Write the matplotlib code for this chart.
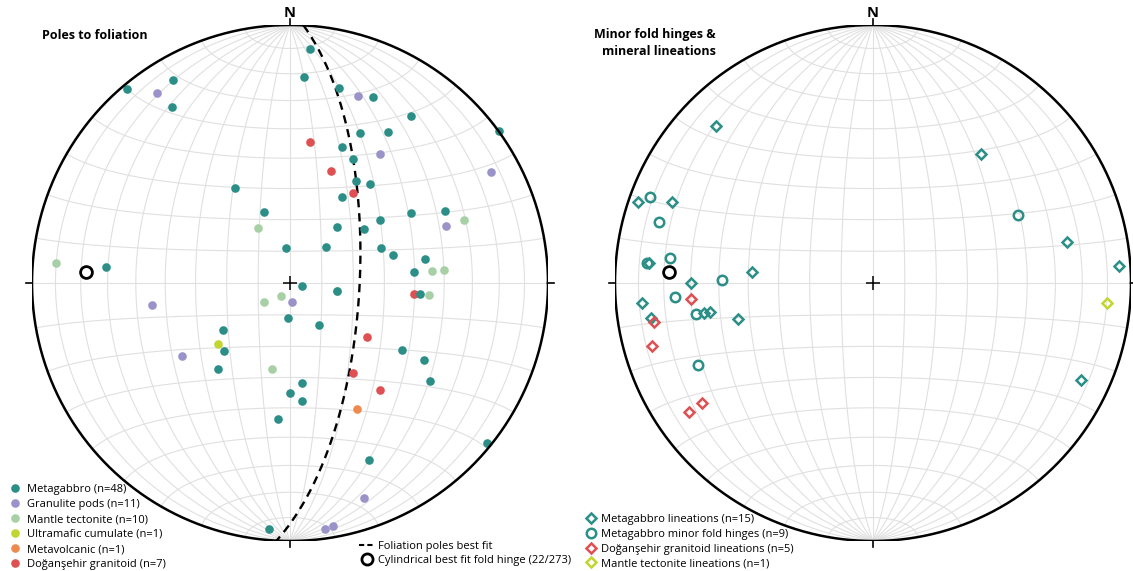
import numpy as np
import matplotlib
matplotlib.use("Agg")
import matplotlib.pyplot as plt
from matplotlib.lines import Line2D

plt.rcParams['font.family'] = ['Open Sans', 'DejaVu Sans']

# ---- data: poles to foliation (trend / plunge, degrees) ----
mg_trend = [320, 330, 326, 330, 340, 354, 275, 5, 4, 14, 24, 36, 54, 25, 33, 21, 27,
            33, 39, 31, 60, 65, 55, 40, 54, 45, 69, 75, 80, 85, 102, 184, 235, 224,
            220, 180, 185, 185, 100, 95, 145, 121, 120, 173, 125, 174, 129, 156]
mg_plunge = [2, 10, 19, 55, 66, 79, 29, 10, 21, 23, 22, 21, 0, 36, 31, 43, 45,
             51, 49, 58, 45, 34, 55, 67, 61, 74, 59, 56, 46, 50, 86, 79, 64, 60,
             54, 55, 46, 5, 75, 48, 74, 48, 40, 58, 34, 52, 2, 26]
gp_trend = [325, 20, 35, 61, 70, 175, 261, 236, 161, 170, 172]
gp_plunge = [11, 24, 39, 12, 36, 84, 45, 48, 13, 5, 4]
mt_trend = [330, 275, 70, 85, 85, 234, 214, 192, 95, 100]
mt_plunge = [70, 10, 29, 44, 40, 80, 85, 62, 45, 75]
uc_trend = [230]
uc_plunge = [60]
mv_trend = [152]
mv_plunge = [44]
dg_trend = [8, 20, 35, 95, 125, 145, 140]
dg_plunge = [44, 52, 55, 50, 60, 55, 45]

# ---- data: lineations and minor fold hinges ----
mgl_trend = [315, 289, 292, 275, 270, 275, 40, 78, 86, 265, 261, 260, 260, 255, 115]
mgl_plunge = [15, 4, 17, 14, 30, 51, 35, 24, 5, 11, 14, 34, 36, 45, 12]
mgh_trend = [291, 286, 275, 277, 271, 65, 266, 260, 245]
mgh_plunge = [8, 15, 13, 22, 41, 38, 24, 31, 26]
dgl_trend = [265, 260, 254, 235, 235]
dgl_plunge = [30, 15, 12, 20, 14]
mtl_trend = [95]
mtl_plunge = [10]

# cylindrical best fit fold hinge (plunge/trend 22/273)
hinge_trend = 273
hinge_plunge = 22

c_teal = '#2b8f87'
c_purple = '#9a93c9'
c_mantle = '#a8d0a6'
c_ultra = '#c2d531'
c_volc = '#ee8a50'
c_red = '#de5052'
c_grid = '#e0e0e0'


def vec_project(e, n, d):
    # equal-area (Schmidt) lower hemisphere
    s = np.sqrt(1.0 + d)
    return e / s, n / s


def project(trend, plunge):
    t = np.radians(np.asarray(trend, float))
    p = np.radians(np.asarray(plunge, float))
    e = np.cos(p) * np.sin(t)
    n = np.cos(p) * np.cos(t)
    d = np.sin(p)
    return vec_project(e, n, d)


def great_circle(strike, dip):
    phi = np.radians(np.linspace(0, 180, 181))
    s = np.radians(strike)
    dp = np.radians(dip)
    sv = np.array([np.sin(s), np.cos(s), 0.0])
    dv = np.array([np.cos(dp) * np.sin(s + np.pi / 2), np.cos(dp) * np.cos(s + np.pi / 2), np.sin(dp)])
    v = np.outer(np.cos(phi), sv) + np.outer(np.sin(phi), dv)
    return vec_project(v[:, 0], v[:, 1], v[:, 2])


def small_circle_ns(alpha, sign):
    th = np.radians(np.linspace(0, 180, 181))
    a = np.radians(alpha)
    e = np.sin(a) * np.cos(th)
    n = sign * np.cos(a) * np.ones_like(th)
    d = np.sin(a) * np.sin(th)
    return vec_project(e, n, d)


def draw_net(ax):
    for dip in range(10, 90, 10):
        for strike in (0, 180):
            x, y = great_circle(strike, dip)
            ax.plot(x, y, color=c_grid, lw=0.8, zorder=1)
    ax.plot([0, 0], [-1, 1], color=c_grid, lw=0.8, zorder=1)
    ax.plot([-1, 1], [0, 0], color=c_grid, lw=0.8, zorder=1)
    for a in range(10, 90, 10):
        for sign in (1, -1):
            x, y = small_circle_ns(a, sign)
            ax.plot(x, y, color=c_grid, lw=0.8, zorder=1)
    th = np.linspace(0, 2 * np.pi, 400)
    ax.plot(np.cos(th), np.sin(th), color='black', lw=1.8, zorder=5)
    k = 0.025
    ax.plot([0, 0], [1, 1 + k], color='black', lw=1.2, clip_on=False)
    ax.plot([0, 0], [-1, -1 - k], color='black', lw=1.2, clip_on=False)
    ax.plot([1, 1 + k], [0, 0], color='black', lw=1.2, clip_on=False)
    ax.plot([-1, -1 - k], [0, 0], color='black', lw=1.2, clip_on=False)
    ax.plot([0], [0], marker='+', color='black', ms=10, mew=1.1, zorder=6)
    ax.text(0, 1.03, 'N', ha='center', va='baseline', fontsize=10.5, fontweight='bold')
    ax.set_xlim(-1, 1)
    ax.set_ylim(-1, 1)
    ax.axis('off')


fig = plt.figure(figsize=(11.33, 5.71), dpi=100)
W, H, R = 1133, 571, 258
ax1 = fig.add_axes([(290 - R) / W, (H - 283 - R) / H, 2 * R / W, 2 * R / H])
ax2 = fig.add_axes([(873 - R) / W, (H - 283 - R) / H, 2 * R / W, 2 * R / H])
draw_net(ax1)
draw_net(ax2)

# ---- left: poles to foliation ----
dot = dict(ls='none', marker='o', ms=6.2, mec='none', zorder=4, clip_on=False)
groups = [
    (mt_trend, mt_plunge, c_mantle, 'Mantle tectonite (n=10)'),
    (gp_trend, gp_plunge, c_purple, 'Granulite pods (n=11)'),
    (dg_trend, dg_plunge, c_red, 'Doğanşehir granitoid (n=7)'),
    (mg_trend, mg_plunge, c_teal, 'Metagabbro (n=48)'),
    (uc_trend, uc_plunge, c_ultra, 'Ultramafic cumulate (n=1)'),
    (mv_trend, mv_plunge, c_volc, 'Metavolcanic (n=1)'),
]
handles = {}
for tr, pl, col, lab in groups:
    x, y = project(tr, pl)
    handles[lab], = ax1.plot(x, y, color=col, label=lab, **dot)

gx, gy = great_circle((hinge_trend + 90) % 360, 90 - hinge_plunge)
ax1.plot(gx, gy, color='black', lw=1.7, ls=(0, (3.5, 2.5)), zorder=3)
hx, hy = project(hinge_trend, hinge_plunge)
ax1.plot(hx, hy, ls='none', marker='o', ms=8.5, mfc='none', mec='black', mew=2.0, zorder=7)

ax1.text(-0.961, 0.96, 'Poles to foliation', fontsize=9, fontweight='bold', ha='left', va='center')

order = ['Metagabbro (n=48)', 'Granulite pods (n=11)', 'Mantle tectonite (n=10)',
         'Ultramafic cumulate (n=1)', 'Metavolcanic (n=1)', 'Doğanşehir granitoid (n=7)']
leg1 = fig.legend([handles[k] for k in order], order, loc='upper left',
                  bbox_to_anchor=(11.5 / W, 1 - 484 / H), frameon=False, fontsize=8,
                  handlelength=0.6, handletextpad=0.78, labelspacing=0.36, borderpad=0,
                  borderaxespad=0)

fit_handles = [Line2D([], [], color='black', lw=1.5, ls=(0, (2.5, 1.5))),
               Line2D([], [], ls='none', marker='o', ms=8, mfc='none', mec='black', mew=2.0)]
leg2 = fig.legend(fit_handles, ['Foliation poles best fit', 'Cylindrical best fit fold hinge (22/273)'],
                  loc='upper left', bbox_to_anchor=(359 / W, 1 - 541 / H), frameon=False,
                  fontsize=8, handlelength=1.4, handletextpad=0.35, labelspacing=0.29,
                  borderpad=0, borderaxespad=0)

# ---- right: minor fold hinges & mineral lineations ----
dia = dict(ls='none', marker='D', ms=5.0, mfc='none', mew=1.8, zorder=4, clip_on=False)
rgroups = [
    (mgl_trend, mgl_plunge, c_teal, 'D', 'Metagabbro lineations (n=15)'),
    (mgh_trend, mgh_plunge, c_teal, 'o', 'Metagabbro minor fold hinges (n=9)'),
    (dgl_trend, dgl_plunge, c_red, 'D', 'Doğanşehir granitoid lineations (n=5)'),
    (mtl_trend, mtl_plunge, c_ultra, 'D', 'Mantle tectonite lineations (n=1)'),
]
rh = []
for tr, pl, col, mk, lab in rgroups:
    x, y = project(tr, pl)
    st = dict(dia)
    st['marker'] = mk
    st['ms'] = 5.0 if mk == 'D' else 6.8
    h, = ax2.plot(x, y, mec=col, label=lab, **st)
    rh.append(h)
ax2.plot(hx, hy, ls='none', marker='o', ms=8.5, mfc='none', mec='black', mew=2.0, zorder=7)

ax2.text(-0.609, 0.93, 'Minor fold hinges &\nmineral lineations', fontsize=9, fontweight='bold',
         ha='right', va='center', multialignment='right', linespacing=1.35)

leg3 = fig.legend(rh, [g[4] for g in rgroups], loc='upper left',
                  bbox_to_anchor=(588 / W, 1 - 514 / H), frameon=False, fontsize=8,
                  handlelength=0.6, handletextpad=0.6, labelspacing=0.34, borderpad=0,
                  borderaxespad=0)

fig.savefig('out.png', dpi=100)
